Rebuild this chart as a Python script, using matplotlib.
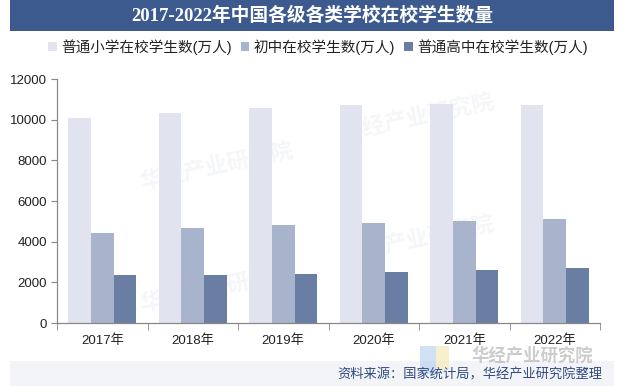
import matplotlib
matplotlib.use("Agg")
import matplotlib.pyplot as plt
import numpy as np
from matplotlib.patches import Rectangle

plt.rcParams['font.family'] = ['Liberation Sans', 'Noto Sans CJK SC', 'DejaVu Sans']

years = ["2017年", "2018年", "2019年", "2020年", "2021年", "2022年"]
primary = [10093.7, 10339.3, 10561.2, 10725.4, 10779.9, 10732.0]
junior = [4442.1, 4652.6, 4827.1, 4914.1, 5018.4, 5120.6]
senior = [2374.5, 2375.4, 2414.3, 2494.5, 2605.0, 2713.9]
series_names = ["普通小学在校学生数(万人)", "初中在校学生数(万人)", "普通高中在校学生数(万人)"]
colors = ["#e1e4ee", "#a8b4cb", "#6a7ea4"]
title = "2017-2022年中国各级各类学校在校学生数量"
source = "资料来源：国家统计局，华经产业研究院整理"

fig = plt.figure(figsize=(6.27, 3.86), dpi=100)
W, H = 627, 386

# title band
fig.patches.append(Rectangle((10 / W, 1 - 31 / H), 604 / W, 31 / H, transform=fig.transFigure,
                             facecolor="#3d5a8f", edgecolor="none", zorder=0))
fig.text(312 / W, 1 - 16 / H, title, ha="center", va="center", color="white",
         fontsize=13.5, fontweight="bold", family=['Liberation Serif', 'Noto Sans CJK SC'])

# source band
fig.patches.append(Rectangle((10 / W, 0), 604 / W, 25 / H, transform=fig.transFigure,
                             facecolor="#f3f4f8", edgecolor="none", zorder=0))

# watermark logo bottom right
fig.text(532 / W, 1 - 355 / H, "华经产业研究院", ha="center", va="center", color="#9a9a9a",
         alpha=0.5, fontsize=12.5, fontweight="bold")
fig.patches.append(Rectangle((420 / W, 1 - 374 / H), 16 / W, 28 / H, transform=fig.transFigure,
                             facecolor="#bcd3f2", edgecolor="none", alpha=0.7, zorder=1))
fig.patches.append(Rectangle((436 / W, 1 - 370 / H), 13 / W, 24 / H, transform=fig.transFigure,
                             facecolor="#f5e9b8", edgecolor="none", alpha=0.7, zorder=1))

fig.text(602 / W, 1 - 375 / H, source, ha="right", va="center", color="#2f4a7f", fontsize=9.5)

ax = fig.add_axes([57 / W, 63 / H, 543 / W, 244 / H])
x = np.arange(len(years))
bw = 0.25
for i, (vals, c, name) in enumerate(zip([primary, junior, senior], colors, series_names)):
    ax.bar(x + (i - 1) * bw, vals, width=bw, color=c, label=name, zorder=2)

ax.set_xlim(-0.5, len(years) - 0.5)
ax.set_ylim(0, 12000)
ax.set_yticks(np.arange(0, 12001, 2000))
ax.set_xticks(x)
ax.set_xticklabels(years)
ax.set_xticks(np.arange(-0.5, len(years), 1.0), minor=True)
ax.tick_params(axis="x", which="major", length=0, pad=8, labelsize=9.5, labelcolor="#222222")
ax.tick_params(axis="x", which="minor", length=5, color="#888888", direction="out")
ax.tick_params(axis="y", length=4, color="#888888", labelsize=9.5, labelcolor="#222222", pad=3)
for s in ["top", "right"]:
    ax.spines[s].set_visible(False)
for s in ["left", "bottom"]:
    ax.spines[s].set_color("#888888")
    ax.spines[s].set_linewidth(0.9)

# faint watermarks
for (wx, wy) in [(0.15, 0.55), (0.52, 0.75), (0.52, 0.25), (0.15, 0.05)]:
    ax.text(wx, wy, "华经产业研究院", transform=ax.transAxes, fontsize=16, fontweight="bold",
            color="#d8dce6", alpha=0.25, rotation=12, zorder=1)

leg = fig.legend(loc="center", bbox_to_anchor=(318 / W, 1 - 47 / H), ncol=3, frameon=False,
                 fontsize=10.5, handlelength=0.6, handleheight=0.6, handletextpad=0.3,
                 columnspacing=0.6, labelcolor="#222222")

fig.savefig("out.png", dpi=100)
